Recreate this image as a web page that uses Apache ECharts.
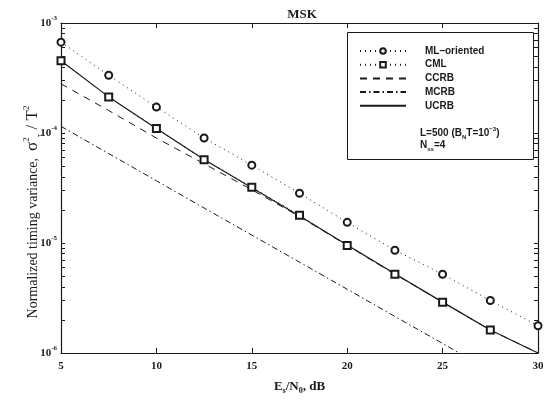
<!DOCTYPE html>
<html>
<head>
<meta charset="utf-8">
<script src="https://cdn.jsdelivr.net/npm/echarts@6/dist/echarts.min.js"></script>
<style>html,body{margin:0;padding:0;background:#fff}#c{width:548px;height:400px}</style>
</head>
<body>
<div id="c"></div>
<script>
// Es/N0 in dB
var snr = [5, 7.5, 10, 12.5, 15, 17.5, 20, 22.5, 25, 27.5, 30];
var mlOriented = [6.7e-4, 3.35e-4, 1.72e-4, 9.0e-5, 5.1e-5, 2.83e-5, 1.54e-5, 8.6e-6, 5.2e-6, 3.0e-6, 1.77e-6];
var cml = [4.54e-4, 2.13e-4, 1.10e-4, 5.7e-5, 3.22e-5, 1.79e-5, 9.5e-6, 5.2e-6, 2.89e-6, 1.62e-6, null];
var ccrb = [2.8e-4, 1.6e-4, 9.0e-5, 5.25e-5, 3.05e-5, 1.74e-5, 9.5e-6, 5.2e-6, 2.9e-6, 1.62e-6, 1.0e-6];
var mcrb = [1.15e-4, 6.5e-5, 3.68e-5, 2.08e-5, 1.18e-5, 6.7e-6, 3.8e-6, 2.15e-6, 1.22e-6, 6.9e-7, 3.9e-7];
var ucrb = [4.54e-4, 2.13e-4, 1.10e-4, 5.75e-5, 3.18e-5, 1.76e-5, 9.6e-6, 5.25e-6, 2.9e-6, 1.62e-6, 1.0e-6];
var xTicks = [5, 10, 15, 20, 25, 30];
var yMin = 1e-6, yMax = 1e-3;
var seriesNames = ['ML\u2013oriented', 'CML', 'CCRB', 'MCRB', 'UCRB'];

function pairs(ys) { return snr.map(function (x, i) { return [x, ys[i]]; }); }

var minorTicks = [];
[1e-6, 1e-5, 1e-4].forEach(function (d) { for (var k = 1; k <= 9; k++) minorTicks.push(k * d); });
minorTicks.push(1e-3);

var ink = '#1a1a1a';
var serif = '"Liberation Serif","DejaVu Serif",serif';
var sans = '"Liberation Sans",Arial,sans-serif';

var yLabel = {
  show: true, margin: 4, color: ink,
  formatter: function (v) { var e = Math.round(Math.log10(v)); return '{b|10}{s|' + e + '}'; },
  rich: {
    b: { fontFamily: serif, fontSize: 11, fontWeight: 'bold', color: ink, lineHeight: 16 },
    s: { fontFamily: serif, fontSize: 7, fontWeight: 'bold', color: ink, verticalAlign: 'top' }
  }
};

var chart = echarts.init(document.getElementById('c'), null, { renderer: 'canvas' });
chart.setOption({
  animation: false,
  backgroundColor: '#fff',
  title: {
    text: 'MSK', left: 297, top: 3, textAlign: 'center',
    textStyle: { fontFamily: serif, fontSize: 13, fontWeight: 'bold', color: ink }
  },
  grid: { left: 61, right: 10, top: 23, bottom: 37, containLabel: false },
  xAxis: [{
    type: 'value', min: 5, max: 30, interval: 5, position: 'bottom',
    axisLine: { lineStyle: { color: ink, width: 1.2 } },
    axisTick: { inside: true, length: 5, lineStyle: { color: ink } },
    splitLine: { show: false },
    axisLabel: { margin: 8, color: ink, fontFamily: serif, fontSize: 11, fontWeight: 'bold',
      customValues: xTicks },
    name: '{b|E}{sub|s}{b|/N}{sub|0}{b|, dB}', nameLocation: 'middle', nameGap: 26,
    nameTextStyle: { rich: {
      b: { fontFamily: serif, fontSize: 13, fontWeight: 'bold', color: ink, lineHeight: 16 },
      sub: { fontFamily: serif, fontSize: 8, fontWeight: 'bold', color: ink, verticalAlign: 'bottom' }
    } }
  }, {
    type: 'value', min: 5, max: 30, interval: 5, position: 'top',
    axisLine: { lineStyle: { color: ink, width: 1.2 } },
    axisTick: { inside: true, length: 5, lineStyle: { color: ink } },
    splitLine: { show: false }, axisLabel: { show: false }
  }],
  yAxis: [{
    type: 'log', logBase: 10, min: yMin, max: yMax, position: 'left',
    axisLine: { show: true, lineStyle: { color: ink, width: 1.2 } },
    axisTick: { show: true, inside: true, length: 4, customValues: minorTicks, lineStyle: { color: ink } },
    splitLine: { show: false }, minorTick: { show: false },
    axisLabel: yLabel
  }, {
    type: 'log', logBase: 10, min: yMin, max: yMax, position: 'right',
    axisLine: { show: true, lineStyle: { color: ink, width: 1.2 } },
    axisTick: { show: true, inside: true, length: 4, customValues: minorTicks, lineStyle: { color: ink } },
    splitLine: { show: false }, axisLabel: { show: false }
  }],
  legend: {
    orient: 'vertical', left: 354, top: 41, itemWidth: 46, itemHeight: 7, itemGap: 3.7,
    data: [
      { name: seriesNames[0] },
      { name: seriesNames[1] },
      { name: seriesNames[2], itemStyle: { opacity: 0 } },
      { name: seriesNames[3], itemStyle: { opacity: 0 } },
      { name: seriesNames[4], itemStyle: { opacity: 0 } }
    ],
    textStyle: { fontFamily: sans, fontSize: 10, fontWeight: 'bold', color: ink, padding: [0, 0, 0, 14] },
    selectedMode: false
  },
  graphic: [
    { type: 'rect', shape: { x: 347.5, y: 32.5, width: 186, height: 127 },
      style: { fill: 'none', stroke: ink, lineWidth: 1 }, z: 1 },
    { type: 'text', x: 420, y: 126,
      style: { text: '{t|L=500 (B}{sub|N}{t|T=10}{sup|\u22123}{t|)}', rich: {
        t: { fontFamily: sans, fontSize: 10, fontWeight: 'bold', fill: ink, lineHeight: 14 },
        sub: { fontFamily: sans, fontSize: 6, fontWeight: 'bold', fill: ink, verticalAlign: 'bottom' },
        sup: { fontFamily: sans, fontSize: 6, fontWeight: 'bold', fill: ink, verticalAlign: 'top' }
      } } },
    { type: 'text', x: 420, y: 138,
      style: { text: '{t|N}{sub|ss}{t|=4}', rich: {
        t: { fontFamily: sans, fontSize: 10, fontWeight: 'bold', fill: ink, lineHeight: 14 },
        sub: { fontFamily: sans, fontSize: 6, fontWeight: 'bold', fill: ink, verticalAlign: 'bottom' }
      } } },
    { type: 'text', x: 33, y: 212, rotation: Math.PI / 2,
      style: { text: '{n|Normalized timing variance,  }{g|\u03c3}{sp|2}{sb|\u03c4}{g| / T}{sp|2}',
        align: 'center', verticalAlign: 'middle', rich: {
        n: { fontFamily: serif, fontSize: 14, fill: ink, lineHeight: 22 },
        g: { fontFamily: serif, fontSize: 17, fill: ink, lineHeight: 22 },
        sp: { fontFamily: serif, fontSize: 9, fill: ink, verticalAlign: 'top' },
        sb: { fontFamily: serif, fontSize: 9, fill: ink, verticalAlign: 'bottom' }
      } } }
  ],
  series: [
    { name: seriesNames[0], type: 'line', data: pairs(mlOriented), symbol: 'emptyCircle', symbolSize: 7,
      lineStyle: { color: ink, width: 1, type: [1, 4] }, itemStyle: { color: ink, borderWidth: 1 } },
    { name: seriesNames[1], type: 'line', data: pairs(cml), symbol: 'emptyRect', symbolSize: 7,
      lineStyle: { color: ink, width: 1, type: [1, 4] }, itemStyle: { color: ink, borderWidth: 1 } },
    { name: seriesNames[2], type: 'line', data: pairs(ccrb), symbol: 'none',
      lineStyle: { color: ink, width: 1, type: [7, 6] }, itemStyle: { color: ink } },
    { name: seriesNames[3], type: 'line', data: pairs(mcrb), symbol: 'none',
      lineStyle: { color: ink, width: 1, type: [6, 3, 1.5, 3] }, itemStyle: { color: ink } },
    { name: seriesNames[4], type: 'line', data: pairs(ucrb), symbol: 'none',
      lineStyle: { color: ink, width: 1.2, type: 'solid' }, itemStyle: { color: ink } }
  ]
});
</script>
</body>
</html>
